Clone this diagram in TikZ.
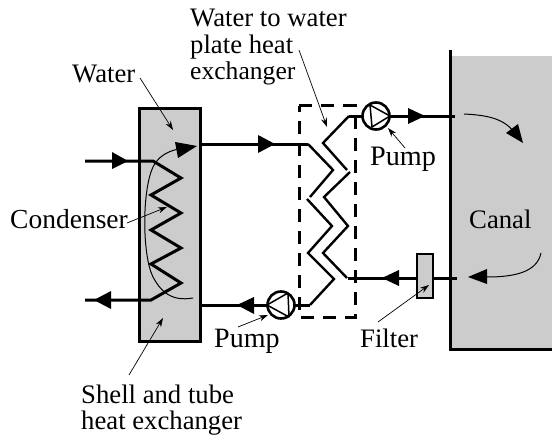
\documentclass[tikz,border=0pt]{standalone}
\usepackage{fontspec}
\setmainfont{Liberation Serif}
\usetikzlibrary{arrows.meta}
\definecolor{shell}{HTML}{CCCCCC}
\tikzset{
  x=1pt,y=-1pt,
  pipe/.style={line width=3pt},
  plate/.style={line width=2.4pt},
  thin arrow/.style={line width=0.7pt,-{Stealth[length=9pt,width=6pt]}},
  flow/.style={line width=1pt},
  head/.style={fill=black,draw=none},
  lab/.style={font=\fontsize{26.7}{27}\selectfont,inner sep=0pt,anchor=base west},
  pumpc/.style={circle,draw,line width=2.6pt,minimum size=27pt,inner sep=0pt,fill=white}
}
\begin{document}
\begin{tikzpicture}
\useasboundingbox (0,0) rectangle (552,436);
% canal
\fill[shell] (450,56) rectangle (552,349);
\coordinate (ct) at (450,52); \coordinate (cb) at (450,349); \coordinate (ce) at (552,349);
\draw[pipe,line cap=rect] (ct) -- (cb) -- (ce);
% shell
\node[draw,line width=3pt,fill=shell,minimum width=61pt,minimum height=232pt,inner sep=0pt] (shellbox) at (169.5,225) {};
% coil
\coordinate (cin) at (85,161); \coordinate (cout) at (85,300);
\draw[pipe,line join=miter] (cin) -- (153,161) -- (181,178) -- (151,195) -- (181,213) -- (151,230) -- (181,248) -- (151,264) -- (181,283) -- (151,300) -- (cout);
\fill[head] (128,161) -- (112,152) -- (112,169) -- cycle;
\fill[head] (94,300) -- (111,291) -- (111,309) -- cycle;
% pipes
\coordinate (htop) at (308,144); \coordinate (hbot) at (310,305);
\draw[pipe] (shellbox.east |- htop) -- (htop);
\fill[head] (275,144) -- (258,135) -- (258,153) -- cycle;
\coordinate (pbotc) at (281,305); \coordinate (ptopc) at (376,116);
\draw[pipe] (shellbox.east |- hbot) -- (hbot);
\fill[head] (237,305) -- (254,297) -- (254,314) -- cycle;
% plate hx
\draw[plate] (htop) -- (333,170) -- (310,197);
\draw[plate] (307,199) -- (332,226) -- (308,253) -- (334,279) -- (hbot);
\coordinate (rt) at (349,116); \coordinate (rb) at (348,278);
\draw[plate] (rt) -- (323,143) -- (347,170);
\draw[plate] (350,172) -- (324,197) -- (348,226) -- (323,253) -- (347,278);
\coordinate (otop) at (455,116); \coordinate (oin) at (457,278);
\draw[pipe] (rt) -- (otop);
\fill[head] (425,116) -- (408,108) -- (408,124) -- cycle;
\draw[pipe] (rb) -- (oin);
\fill[head] (382,278) -- (399,270) -- (399,286) -- cycle;
% dashed
\draw[line width=3pt,dash pattern=on 13pt off 9pt] (299,106) -- (355,106) -- (355,317) -- (299,317) -- cycle;
% pumps
\node[pumpc] (ptop) at (ptopc) {};
\node[pumpc] (pbot) at (pbotc) {};
\draw[line width=1.5pt,line join=round] (370,105) -- (390,116) -- (372,127) -- cycle;
\draw[line width=1.5pt,line join=round] (288,293) -- (267,305) -- (289,317) -- cycle;
% filter
\node[draw,line width=2.6pt,fill=shell,minimum width=16pt,minimum height=44pt,inner sep=0pt] (filter) at (425,276) {};
% flows
\draw[flow] (193,298) .. controls (170,302) and (160,290) .. (153,277) .. controls (142,255) and (142,190) .. (153,167) .. controls (158,157) and (166,152) .. (178,149);
\fill[head] (197,146) -- (175,142) -- (178,158) -- cycle;
\draw[flow] (464,114) .. controls (485,115) and (503,118) .. (513,131);
\fill[head] (523,143) -- (506,133) -- (518,124) -- cycle;
\draw[flow] (541,253) .. controls (537,272) and (515,277) .. (487,277);
\fill[head] (468,277) -- (487,269) -- (487,284) -- cycle;
% labels
\node[lab] (w1) at (190,27) {Water to water};
\node[lab] (w2) at (190,54) {plate heat};
\node[lab] (w3) at (190,80) {\fontsize{25.6}{27}\selectfont exchanger};
\node[lab] (water) at (72,83) {Water};
\node[lab] (cond) at (10,228) {\fontsize{27.5}{27}\selectfont Condenser};
\node[lab] (p1) at (370,165) {\fontsize{28.2}{27}\selectfont Pump};
\node[lab] (canal) at (469,228) {Canal};
\node[lab] (p2) at (214,347) {\fontsize{28}{27}\selectfont Pump};
\node[lab] (filt) at (360,347) {Filter};
\node[lab] (s1) at (81,403) {Shell and tube};
\node[lab] (s2) at (81,429) {heat exchanger};
% leaders
\coordinate (lw) at (173,130); \coordinate (lc) at (167,207); \coordinate (ls) at (163,318);
\coordinate (lp) at (327,127); \coordinate (lpt) at (388,128); \coordinate (lpb) at (268,315); \coordinate (lf) at (429,285);
\coordinate (lw0) at (140,78); \coordinate (lc0) at (127,223); \coordinate (ls0) at (129,375);
\coordinate (lp0) at (299,50); \coordinate (lpt0) at (405,148); \coordinate (lpb0) at (238,327); \coordinate (lf0) at (378,322);
\draw[thin arrow] (lw0) -- (lw);
\draw[thin arrow] (lc0) -- (lc);
\draw[thin arrow] (ls0) -- (ls);
\draw[thin arrow] (lp0) -- (lp);
\draw[thin arrow] (lpt0) -- (lpt);
\draw[thin arrow] (lpb0) -- (lpb);
\draw[thin arrow] (lf0) -- (lf);
\end{tikzpicture}
\end{document}
